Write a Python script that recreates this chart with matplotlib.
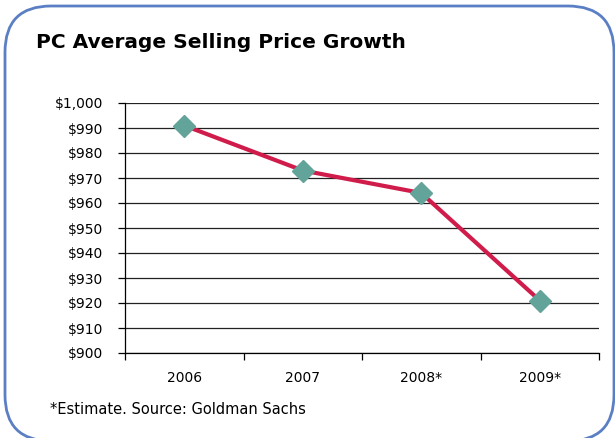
"""PC average selling price, 2006-2009 (estimates marked with *)."""
import matplotlib.pyplot as plt
from matplotlib.patches import FancyBboxPatch
from matplotlib.ticker import FuncFormatter
import numpy as np

years = ['2006', '2007', '2008*', '2009*']
asp = [991, 973, 964, 921]
yticks = list(range(900, 1001, 10))

plt.rcParams['font.family'] = ['DejaVu Sans']

W, H = 615, 438
fig = plt.figure(figsize=(W / 100, H / 100), dpi=100)

# rounded frame around the whole chart
frame = FancyBboxPatch((5 / W, 1 - 441 / H), 609 / W, 435 / H,
                       boxstyle='round,pad=0,rounding_size=0.075',
                       transform=fig.transFigure, fill=False,
                       edgecolor='#5b7fc4', linewidth=2.0, mutation_aspect=W / H)
fig.patches.append(frame)

fig.text(36 / W, 1 - 42 / H, 'PC Average Selling Price Growth',
         fontsize=14.5, fontweight='bold', va='center', ha='left')
fig.text(50 / W, 1 - 410 / H, '*Estimate. Source: Goldman Sachs',
         fontsize=10.5, va='center', ha='left')

ax = fig.add_axes([125 / W, 1 - 353 / H, 474 / W, 250 / H])
x = np.arange(len(years))
ax.plot(x, asp, color='#d01c4a', linewidth=3.0, zorder=3,
        marker='D', markersize=11, markerfacecolor='#62a39a',
        markeredgecolor='#62a39a')

ax.set_xlim(-0.5, len(years) - 0.5)
ax.set_ylim(900, 1000)
ax.set_yticks(yticks)
ax.yaxis.set_major_formatter(FuncFormatter(lambda v, p: f'${v:,.0f}'))
ax.yaxis.grid(True, color='#222222', linewidth=0.9)
ax.set_axisbelow(True)

ax.set_xticks(x)
ax.set_xticklabels(years)
ax.set_xticks(np.arange(len(years) + 1) - 0.5, minor=True)
ax.tick_params(axis='x', which='major', length=0, pad=13, labelsize=10)
ax.tick_params(axis='x', which='minor', length=5, width=0.9, direction='out')
ax.tick_params(axis='y', length=5, width=0.9, direction='out', labelsize=10, pad=10.5)

for side in ('top', 'right'):
    ax.spines[side].set_visible(False)
for side in ('left', 'bottom'):
    ax.spines[side].set_linewidth(0.9)

fig.savefig('out.png', dpi=100)
